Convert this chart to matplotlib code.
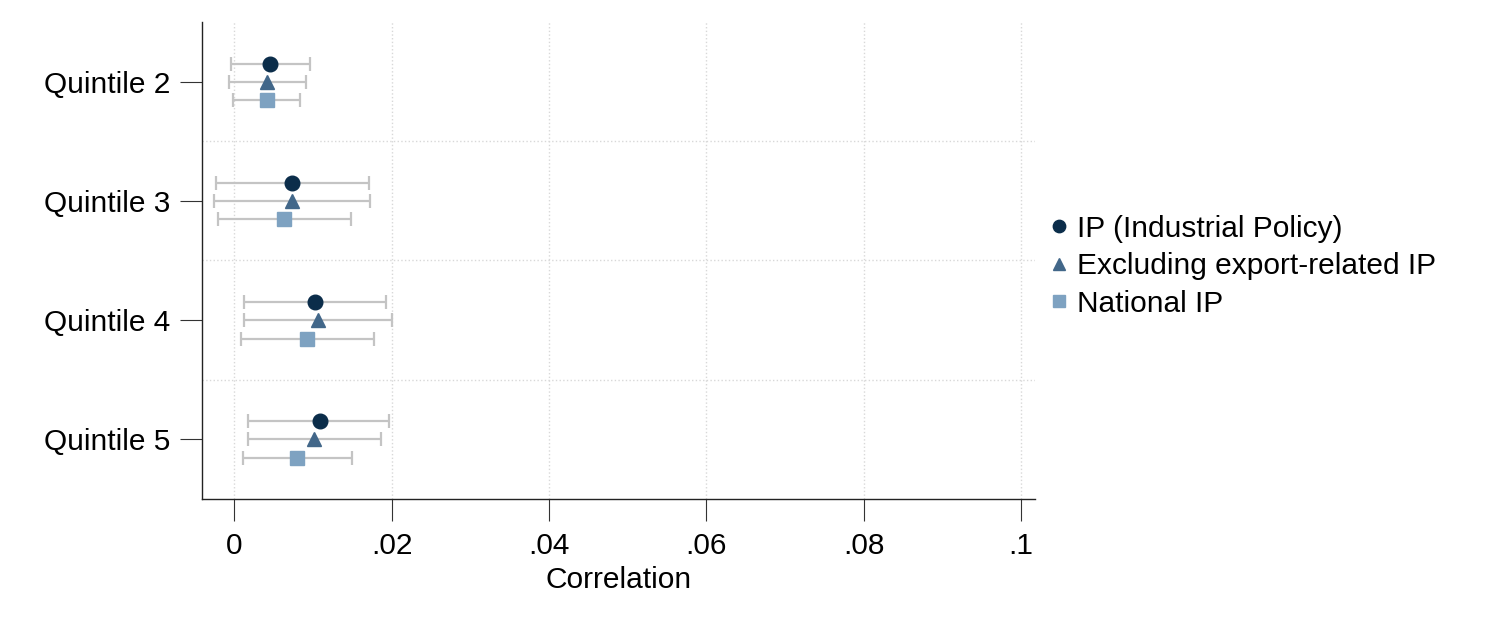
import matplotlib.pyplot as plt
import numpy as np

plt.rcParams["font.family"] = ["Liberation Sans", "DejaVu Sans"]

quintiles = ["Quintile 2", "Quintile 3", "Quintile 4", "Quintile 5"]
series = ["IP (Industrial Policy)", "Excluding export-related IP", "National IP"]

# point estimates and 95% CI per series, one entry per quintile
ip_est = [0.00454, 0.00733, 0.01025, 0.01089]
ip_lo = [-0.00042, -0.00236, 0.00127, 0.00169]
ip_hi = [0.00962, 0.01712, 0.01924, 0.01966]

exp_est = [0.00420, 0.00733, 0.01060, 0.01013]
exp_lo = [-0.00064, -0.00258, 0.00127, 0.00169]
exp_hi = [0.00907, 0.01725, 0.01999, 0.01860]

nat_est = [0.00412, 0.00631, 0.00923, 0.00801]
nat_lo = [-0.00013, -0.00207, 0.00081, 0.00108]
nat_hi = [0.00835, 0.01479, 0.01771, 0.01499]

colors = ["#0b2d4a", "#426789", "#7ea2c1"]
markers = ["o", "^", "s"]
offsets = [-0.15, 0.0, 0.155]
msizes = [10.5, 10.5, 10]

fs = 21.5

fig = plt.figure(figsize=(15, 6.25), dpi=100)
ax = fig.add_axes([0.1347, 0.2016, 0.69 - 0.1347, 0.965 - 0.2016])

y = np.arange(1, len(quintiles) + 1)
data = [(ip_est, ip_lo, ip_hi), (exp_est, exp_lo, exp_hi), (nat_est, nat_lo, nat_hi)]
handles = []
for (est, lo, hi), c, m, off, ms, lab in zip(data, colors, markers, offsets, msizes, series):
    est = np.array(est)
    err = [est - np.array(lo), np.array(hi) - est]
    ax.errorbar(est, y + off, xerr=err, fmt="none", ecolor="#c4c4c4",
                elinewidth=1.6, capsize=5, capthick=1.6, zorder=2)
    h, = ax.plot(est, y + off, linestyle="none", marker=m, color=c,
                 markersize=ms, zorder=3, label=lab)
    handles.append(h)

ax.set_xlim(-0.0041, 0.1018)
ax.set_ylim(4.5, 0.5)
ax.set_xticks([0, 0.02, 0.04, 0.06, 0.08, 0.1])
ax.set_xticklabels(["0", ".02", ".04", ".06", ".08", ".1"])
ax.set_yticks(y)
ax.set_yticklabels(quintiles)
ax.set_yticks([1.5, 2.5, 3.5], minor=True)

ax.grid(axis="x", which="major", color="#d8d8d8", linestyle=":", linewidth=1)
ax.grid(axis="y", which="minor", color="#d8d8d8", linestyle=":", linewidth=1)
ax.tick_params(axis="y", which="minor", length=0)
ax.tick_params(axis="both", which="major", labelsize=fs, length=16, width=0.8,
               color="#333333")
ax.tick_params(axis="y", which="major", pad=7)
ax.tick_params(axis="x", which="major", pad=8)
ax.set_axisbelow(True)

for s in ["top", "right"]:
    ax.spines[s].set_visible(False)
for s in ["left", "bottom"]:
    ax.spines[s].set_linewidth(1.0)
    ax.spines[s].set_color("#222222")

ax.set_xlabel("Correlation", fontsize=fs, labelpad=4)

fig.legend(handles=handles, loc="center left", bbox_to_anchor=(0.678, 0.574),
           frameon=False, fontsize=fs, handletextpad=0.1, labelspacing=0.32,
           handlelength=1.0, markerscale=0.85)

fig.savefig("out.png", dpi=100)
